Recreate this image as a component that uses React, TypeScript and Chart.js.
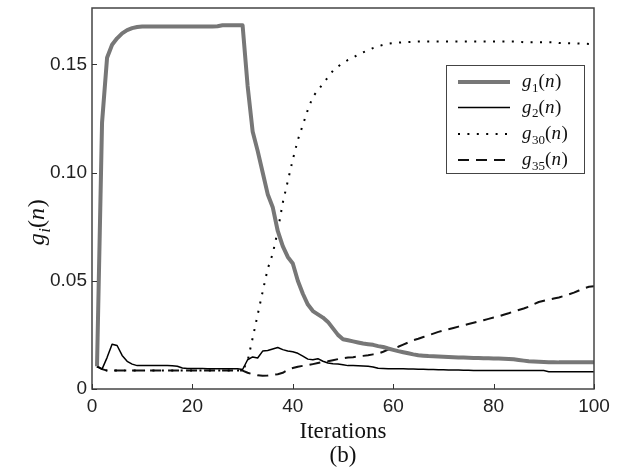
import React, { useEffect, useRef } from "react";
import { Chart, registerables } from "chart.js";

Chart.register(...registerables);

const ITERATIONS: number[] = Array.from({ length: 100 }, (_, i) => i + 1);

const X_TICKS = [0, 20, 40, 60, 80, 100];
const Y_TICKS = [0, 0.05, 0.1, 0.15];
const Y_TICK_LABELS = ["0", "0.05", "0.10", "0.15"];

const G1 = [
  0.0105, 0.123, 0.153, 0.159, 0.162, 0.1643, 0.1658, 0.1667, 0.1672, 0.1675,
  0.1675, 0.1675, 0.1675, 0.1675, 0.1675, 0.1675, 0.1675, 0.1675, 0.1675, 0.1675,
  0.1675, 0.1675, 0.1675, 0.1675, 0.1676, 0.168, 0.168, 0.168, 0.168, 0.168,
  0.14, 0.119, 0.11, 0.1, 0.09, 0.084, 0.073, 0.066, 0.061, 0.058,
  0.05, 0.044, 0.039, 0.036, 0.0345, 0.033, 0.031, 0.028, 0.025, 0.023,
  0.0225, 0.022, 0.0215, 0.021, 0.0207, 0.0204, 0.0198, 0.0194, 0.0187, 0.0181,
  0.0175, 0.017, 0.0165, 0.016, 0.0156, 0.0154, 0.0152, 0.0151, 0.015, 0.0149,
  0.0148, 0.0147, 0.0146, 0.0145, 0.0144, 0.0143, 0.0143, 0.0142, 0.0142, 0.0141,
  0.0141, 0.014, 0.0139, 0.0137, 0.0134, 0.0131, 0.0128, 0.0127, 0.0126, 0.0125,
  0.0124, 0.0124, 0.0123, 0.0123, 0.0123, 0.0123, 0.0123, 0.0123, 0.0123, 0.0123,
];

const G2 = [
  0.0104, 0.0092, 0.0145, 0.0207, 0.0201, 0.0155, 0.0128, 0.0115, 0.0108, 0.0108,
  0.0108, 0.0108, 0.0108, 0.0108, 0.0108, 0.0107, 0.0105, 0.0097, 0.0095, 0.0095,
  0.0095, 0.0095, 0.0094, 0.0094, 0.0094, 0.0094, 0.0093, 0.0093, 0.0093, 0.009,
  0.0135, 0.0148, 0.0143, 0.0175, 0.0178, 0.0185, 0.0192, 0.0182, 0.0176, 0.0172,
  0.0165, 0.0152, 0.0138, 0.0135, 0.014, 0.0128, 0.012, 0.0117, 0.0116, 0.0112,
  0.0108, 0.0108, 0.0107, 0.0106, 0.0105, 0.0102, 0.0096, 0.0095, 0.0094, 0.0094,
  0.0093, 0.0093, 0.0092, 0.0092, 0.0091, 0.0091, 0.009, 0.009, 0.0089, 0.0089,
  0.0088, 0.0088, 0.0088, 0.0087, 0.0087, 0.0086, 0.0086, 0.0086, 0.0086, 0.0086,
  0.0086, 0.0086, 0.0085, 0.0085, 0.0085, 0.0085, 0.0085, 0.0085, 0.0085, 0.0085,
  0.008, 0.008, 0.008, 0.008, 0.008, 0.008, 0.008, 0.008, 0.008, 0.008,
];

const G30 = [
  0.0105, 0.0092, 0.0085, 0.0085, 0.0085, 0.0085, 0.0085, 0.0085, 0.0085, 0.0085,
  0.0085, 0.0085, 0.0085, 0.0085, 0.0085, 0.0085, 0.0085, 0.0085, 0.0085, 0.0085,
  0.0085, 0.0085, 0.0085, 0.0085, 0.0085, 0.0085, 0.0085, 0.0085, 0.0085, 0.0085,
  0.013, 0.0235, 0.0343, 0.045, 0.0555, 0.0625, 0.073, 0.086, 0.096, 0.106,
  0.115, 0.122, 0.129, 0.135, 0.138, 0.141, 0.144, 0.147, 0.149, 0.1505,
  0.152, 0.153, 0.1545, 0.1555, 0.1565, 0.1575, 0.1583, 0.159, 0.1595, 0.1598,
  0.16, 0.1602, 0.1603, 0.1604, 0.1605, 0.1605, 0.1605, 0.1605, 0.1605, 0.1605,
  0.1605, 0.1605, 0.1605, 0.1605, 0.1605, 0.1605, 0.1605, 0.1605, 0.1605, 0.1605,
  0.1605, 0.1605, 0.1605, 0.1605, 0.1605, 0.1602, 0.1602, 0.1602, 0.1602, 0.1602,
  0.1602, 0.1602, 0.1598, 0.1598, 0.1597, 0.1597, 0.1596, 0.1595, 0.1594, 0.1594,
];

const G35 = [
  0.0105, 0.0092, 0.0085, 0.0085, 0.0085, 0.0085, 0.0085, 0.0085, 0.0085, 0.0085,
  0.0085, 0.0085, 0.0085, 0.0085, 0.0085, 0.0085, 0.0085, 0.0085, 0.0085, 0.0085,
  0.0085, 0.0085, 0.0085, 0.0085, 0.0085, 0.0085, 0.0085, 0.0085, 0.0085, 0.0085,
  0.0075, 0.0068, 0.0063, 0.0061, 0.0062, 0.0065, 0.0068, 0.0075, 0.0088, 0.0097,
  0.0103, 0.0107, 0.011, 0.0115, 0.012, 0.0124, 0.0128, 0.0133, 0.0138, 0.0142,
  0.0145, 0.0147, 0.015, 0.0153, 0.0156, 0.016, 0.0164, 0.0172, 0.0182, 0.0188,
  0.0195, 0.0205, 0.0215, 0.0225, 0.0232, 0.024, 0.0248, 0.0256, 0.0264, 0.027,
  0.0276, 0.0282, 0.0288, 0.0294, 0.03, 0.0306, 0.0312, 0.0318, 0.0324, 0.033,
  0.0335, 0.0343, 0.035, 0.0358, 0.0365, 0.0372, 0.038, 0.0392, 0.0402, 0.0408,
  0.0413, 0.0418, 0.0423, 0.043, 0.0437, 0.0445, 0.0455, 0.0465, 0.0472, 0.0475,
];

type Part = { t: string; italic?: boolean; sub?: boolean };

const SERIF = '"Liberation Serif", "Times New Roman", serif';
const SANS = '"Liberation Sans", Arial, sans-serif';

const SERIES = [
  { name: [{ t: "g", italic: true }, { t: "1", sub: true }, { t: "(" }, { t: "n", italic: true }, { t: ")" }], data: G1, color: "#777777", width: 4, dash: [] as number[] },
  { name: [{ t: "g", italic: true }, { t: "2", sub: true }, { t: "(" }, { t: "n", italic: true }, { t: ")" }], data: G2, color: "#000000", width: 1.5, dash: [] as number[] },
  { name: [{ t: "g", italic: true }, { t: "30", sub: true }, { t: "(" }, { t: "n", italic: true }, { t: ")" }], data: G30, color: "#000000", width: 2, dash: [2, 7.4] },
  { name: [{ t: "g", italic: true }, { t: "35", sub: true }, { t: "(" }, { t: "n", italic: true }, { t: ")" }], data: G35, color: "#111111", width: 2, dash: [11, 7] },
];

function drawRich(ctx: CanvasRenderingContext2D, parts: Part[], x: number, y: number, size: number, align: "left" | "center") {
  const fontFor = (p: Part) => `${p.italic ? "italic " : ""}${p.sub ? Math.round(size * 0.7) : size}px ${SERIF}`;
  ctx.textBaseline = "alphabetic";
  ctx.textAlign = "left";
  const widths = parts.map((p) => {
    ctx.font = fontFor(p);
    return ctx.measureText(p.t).width;
  });
  const total = widths.reduce((a, b) => a + b, 0);
  let cx = align === "center" ? x - total / 2 : x;
  parts.forEach((p, i) => {
    ctx.font = fontFor(p);
    ctx.fillText(p.t, cx, p.sub ? y + size * 0.24 : y);
    cx += widths[i] + (p.italic && !p.sub ? size * 0.03 : 0);
  });
}

const decorPlugin = {
  id: "decor",
  afterDraw(chart: any) {
    const ctx: CanvasRenderingContext2D = chart.ctx;
    const { left, right, top, bottom } = chart.chartArea;
    const xs = chart.scales.x;
    const ys = chart.scales.y;
    ctx.save();
    // frame
    ctx.strokeStyle = "#444";
    ctx.lineWidth = 1.5;
    ctx.strokeRect(left, top, right - left, bottom - top);
    // inward ticks
    ctx.strokeStyle = "#333";
    ctx.lineWidth = 1;
    ctx.beginPath();
    X_TICKS.forEach((v) => {
      const px = Math.round(xs.getPixelForValue(v)) + 0.5;
      ctx.moveTo(px, bottom);
      ctx.lineTo(px, bottom - 5);
    });
    Y_TICKS.forEach((v) => {
      const py = Math.round(ys.getPixelForValue(v)) + 0.5;
      ctx.moveTo(left, py);
      ctx.lineTo(left + 5, py);
    });
    ctx.stroke();

    // legend
    const bx = 446, by = 65, bw = 138, bh = 108;
    ctx.fillStyle = "#fff";
    ctx.fillRect(bx, by, bw, bh);
    ctx.strokeStyle = "#444";
    ctx.lineWidth = 1;
    ctx.strokeRect(bx + 0.5, by + 0.5, bw, bh);
    const rows = [82, 107.5, 134, 160];
    SERIES.forEach((s, i) => {
      const ly = rows[i];
      ctx.beginPath();
      ctx.strokeStyle = s.color;
      ctx.lineWidth = s.width;
      ctx.setLineDash(s.dash);
      ctx.moveTo(458, ly);
      ctx.lineTo(510, ly);
      ctx.stroke();
      ctx.setLineDash([]);
      ctx.fillStyle = "#111";
      drawRich(ctx, s.name as Part[], 522, ly + 5, 19, "left");
    });

    // axis titles
    ctx.fillStyle = "#111";
    ctx.font = `23px ${SERIF}`;
    ctx.textAlign = "center";
    ctx.textBaseline = "middle";
    ctx.fillText("Iterations", (left + right) / 2, 432);
    ctx.fillText("(b)", (left + right) / 2, 456);

    ctx.save();
    ctx.translate(38, 223);
    ctx.rotate(-Math.PI / 2);
    drawRich(ctx, [{ t: "g", italic: true }, { t: "i", italic: true, sub: true }, { t: "(" }, { t: "n", italic: true }, { t: ")" }], 0, 6, 24, "center");
    ctx.restore();

    ctx.restore();
  },
};

export default function App() {
  const ref = useRef<HTMLCanvasElement | null>(null);
  useEffect(() => {
    if (!ref.current) return;
    const chart = new Chart(ref.current, {
      type: "line",
      data: {
        labels: ITERATIONS,
        datasets: SERIES.map((s) => ({
          data: s.data,
          borderColor: s.color,
          borderWidth: s.width,
          borderDash: s.dash,
          pointRadius: 0,
          tension: 0,
          fill: false,
          borderCapStyle: "butt" as const,
          borderJoinStyle: "round" as const,
        })),
      },
      options: {
        responsive: false,
        animation: false,
        layout: { padding: { top: 8, right: 33, left: 0, bottom: 0 } },
        plugins: { legend: { display: false }, tooltip: { enabled: false } },
        scales: {
          x: {
            type: "linear",
            min: 0,
            max: 100,
            grid: { display: false, drawTicks: false },
            border: { display: false },
            afterBuildTicks: (scale: any) => {
              scale.ticks = X_TICKS.map((v) => ({ value: v }));
            },
            afterFit: (scale: any) => {
              scale.height = 84;
              scale.paddingLeft = 0;
              scale.paddingRight = 0;
            },
            ticks: {
              padding: 6,
              maxRotation: 0,
              color: "#222",
              font: { family: SANS, size: 19 },
              callback: (v: any) => String(v),
            },
          },
          y: {
            type: "linear",
            min: 0,
            max: 0.176,
            grid: { display: false, drawTicks: false },
            border: { display: false },
            afterBuildTicks: (scale: any) => {
              scale.ticks = Y_TICKS.map((v) => ({ value: v }));
            },
            afterFit: (scale: any) => {
              scale.width = 92;
              scale.paddingTop = 0;
              scale.paddingBottom = 0;
            },
            ticks: {
              padding: 5,
              color: "#222",
              font: { family: SANS, size: 19 },
              callback: (v: any) => {
                const i = Y_TICKS.findIndex((t) => Math.abs(t - v) < 1e-9);
                return i >= 0 ? Y_TICK_LABELS[i] : "";
              },
            },
          },
        },
      },
      plugins: [decorPlugin],
    } as any);
    return () => chart.destroy();
  }, []);
  return (
    <div style={{ position: "fixed", left: 0, top: 0, width: 627, height: 473, background: "#fff" }}>
      <canvas ref={ref} width={627} height={473} />
    </div>
  );
}
